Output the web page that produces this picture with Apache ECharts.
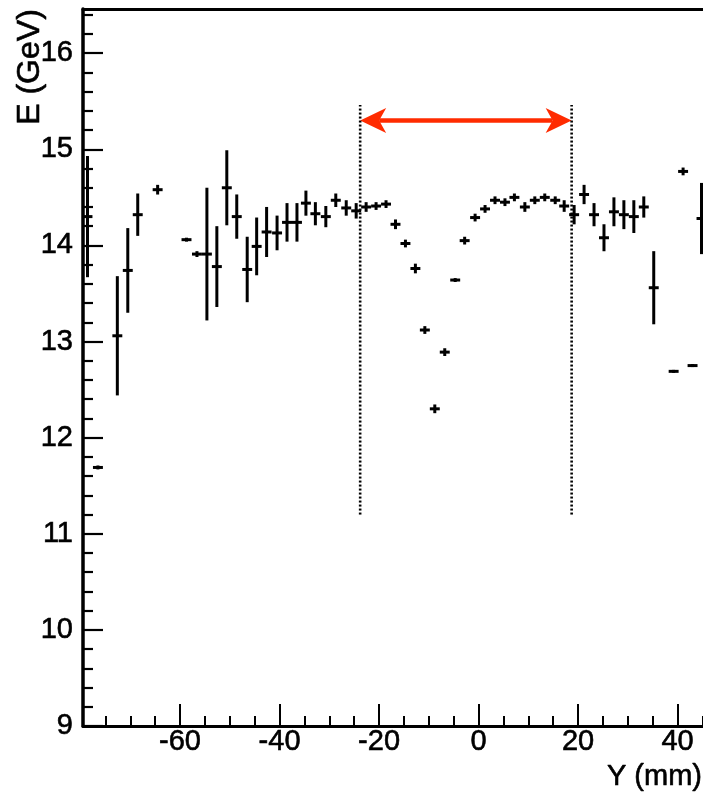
<!DOCTYPE html>
<html><head><meta charset="utf-8">
<script src="https://cdn.jsdelivr.net/npm/echarts@6/dist/echarts.min.js"></script>
<style>html,body{margin:0;padding:0;background:#fff}#c{width:703px;height:798px}</style>
</head><body><div id="c"></div>
<script>
// Bin centres (Y, mm)
const yPos = [-78.6, -76.5, -72.6, -70.5, -68.5, -64.5, -58.7, -56.6, -54.6, -52.6, -50.6, -48.6, -46.5, -44.6, -42.6, -40.5, -38.5, -36.5, -34.7, -32.8, -30.7, -28.7, -26.6, -24.6, -22.6, -20.6, -18.6, -16.7, -14.7, -12.7, -10.8, -8.8, -6.8, -4.7, -2.8, -0.7, 1.3, 3.3, 5.3, 7.2, 9.3, 11.3, 13.3, 15.4, 17.2, 19.2, 21.2, 23.2, 25.2, 27.2, 29.2, 31.2, 33.2, 35.2, 39.2, 41.1, 43.0, 44.8];
// Mean energy (GeV)
const energy = [14.30, 11.69, 13.06, 13.74, 14.32, 14.58, 14.06, 13.91, 13.91, 13.78, 14.60, 14.30, 13.75, 13.99, 14.14, 14.13, 14.24, 14.24, 14.44, 14.33, 14.30, 14.47, 14.39, 14.36, 14.40, 14.41, 14.43, 14.22, 14.02, 13.76, 13.12, 12.30, 12.89, 13.64, 14.05, 14.29, 14.38, 14.47, 14.45, 14.50, 14.40, 14.47, 14.50, 14.47, 14.41, 14.32, 14.53, 14.32, 14.08, 14.35, 14.32, 14.30, 14.40, 13.56, 12.69, 14.77, 12.75, 14.28];
// Error on the mean (GeV)
const energyErr = [0.62, 0.01, 0.61, 0.43, 0.21, 0.04, 0.01, 0.02, 0.68, 0.41, 0.38, 0.22, 0.33, 0.29, 0.25, 0.17, 0.19, 0.19, 0.12, 0.11, 0.10, 0.06, 0.07, 0.07, 0.04, 0.03, 0.03, 0.04, 0.03, 0.04, 0.03, 0.035, 0.03, 0.01, 0.03, 0.03, 0.03, 0.03, 0.03, 0.03, 0.04, 0.03, 0.03, 0.03, 0.05, 0.09, 0.09, 0.11, 0.13, 0.14, 0.14, 0.16, 0.10, 0.37, 0.005, 0.03, 0.005, 0.36];
const binHalfWidth = 1;

const xMajorTicks = [-60, -40, -20, 0, 20, 40];
const xMinorTicks = [-75, -70, -65, -55, -50, -45, -35, -30, -25, -15, -10, -5, 5, 10, 15, 25, 30, 35, 45];
const yMajorTicks = [9, 10, 11, 12, 13, 14, 15, 16];
const yMinorTicks = [9.2, 9.4, 9.6, 9.8, 10.2, 10.4, 10.6, 10.8, 11.2, 11.4, 11.6, 11.8, 12.2, 12.4, 12.6, 12.8, 13.2, 13.4, 13.6, 13.8, 14.2, 14.4, 14.6, 14.8, 15.2, 15.4, 15.6, 15.8, 16.2, 16.4];

// Fiducial window
const windowEdges = [-23.8, 18.7];
const windowE = [11.2, 15.46];
const arrowE = 15.30;

const xRange = [-79.5, 45.1];
const yRange = [9, 16.46];

const FONT = "'Liberation Sans', Arial, Helvetica, sans-serif";
const chart = echarts.init(document.getElementById('c'), null, {renderer: 'canvas'});

const errData = yPos.map((x, i) => [x, energy[i], energyErr[i]]);

const baseX = {type: 'value', min: xRange[0], max: xRange[1], splitLine: {show: false}};
const baseY = {type: 'value', min: yRange[0], max: yRange[1], splitLine: {show: false}};
const labelStyle = {color: '#000', fontSize: 29, fontFamily: FONT, textBorderColor: '#000', textBorderWidth: 0.6};

const option = {
  animation: false,
  backgroundColor: '#fff',
  grid: {left: 83, right: 0, top: 9, bottom: 72, containLabel: false},
  xAxis: [
    Object.assign({}, baseX, {
      position: 'bottom',
      axisLine: {show: true, onZero: false, lineStyle: {color: '#000', width: 3}},
      axisTick: {show: true, inside: true, length: 22, customValues: xMajorTicks, lineStyle: {color: '#000', width: 2}},
      axisLabel: Object.assign({show: true, customValues: xMajorTicks, margin: 1}, labelStyle)
    }),
    Object.assign({}, baseX, {
      position: 'bottom',
      axisLine: {show: false, onZero: false},
      axisTick: {show: true, inside: true, length: 10, customValues: xMinorTicks, lineStyle: {color: '#000', width: 2}},
      axisLabel: {show: false}
    }),
    Object.assign({}, baseX, {
      position: 'top',
      axisLine: {show: true, onZero: false, lineStyle: {color: '#000', width: 3}},
      axisTick: {show: false},
      axisLabel: {show: false}
    })
  ],
  yAxis: [
    Object.assign({}, baseY, {
      position: 'left',
      axisLine: {show: true, onZero: false, lineStyle: {color: '#000', width: 3.5}},
      axisTick: {show: true, inside: true, length: 20, customValues: yMajorTicks, lineStyle: {color: '#000', width: 2.2}},
      axisLabel: Object.assign({show: true, customValues: yMajorTicks, margin: 10}, labelStyle)
    }),
    Object.assign({}, baseY, {
      position: 'left',
      axisLine: {show: false, onZero: false},
      axisTick: {show: true, inside: true, length: 10, customValues: yMinorTicks, lineStyle: {color: '#000', width: 2.2}},
      axisLabel: {show: false}
    })
  ],
  graphic: [
    {type: 'text', x: 30, y: 67, rotation: Math.PI / 2,
     style: {text: 'E (GeV)', fill: '#000', font: "32px " + FONT, align: 'center', verticalAlign: 'middle', stroke: '#000', lineWidth: 0.6}},
    {type: 'text', x: 702, y: 777,
     style: {text: 'Y (mm)', fill: '#000', font: "29px " + FONT, align: 'right', verticalAlign: 'middle', stroke: '#000', lineWidth: 0.6}}
  ],
  series: [
    {
      type: 'line', xAxisIndex: 0, yAxisIndex: 0, symbol: 'none', silent: true,
      data: [[windowEdges[0], windowE[0]], [windowEdges[0], windowE[1]]],
      lineStyle: {color: '#000', width: 2.6, type: [2, 2]}
    },
    {
      type: 'line', xAxisIndex: 0, yAxisIndex: 0, symbol: 'none', silent: true,
      data: [[windowEdges[1], windowE[0]], [windowEdges[1], windowE[1]]],
      lineStyle: {color: '#000', width: 2.6, type: [2, 2]}
    },
    {
      type: 'custom', xAxisIndex: 0, yAxisIndex: 0, clip: true, silent: true,
      data: errData,
      encode: {x: 0, y: 1},
      renderItem: function (params, api) {
        const x = api.value(0), y = api.value(1), e = api.value(2);
        const c = api.coord([x, y]);
        const l = api.coord([x - binHalfWidth, y]);
        const r = api.coord([x + binHalfWidth, y]);
        const t = api.coord([x, y + e]);
        const b = api.coord([x, y - e]);
        const st = {stroke: '#000', lineWidth: 3, fill: null};
        return {type: 'group', children: [
          {type: 'line', shape: {x1: l[0], y1: c[1], x2: r[0], y2: c[1]}, style: st},
          {type: 'line', shape: {x1: c[0], y1: t[1] - 1, x2: c[0], y2: b[1] + 1}, style: st}
        ]};
      }
    },
    {
      type: 'custom', xAxisIndex: 0, yAxisIndex: 0, clip: false, silent: true,
      data: [[windowEdges[0], windowEdges[1], arrowE]],
      renderItem: function (params, api) {
        const p1 = api.coord([api.value(0), api.value(2)]);
        const p2 = api.coord([api.value(1), api.value(2)]);
        const L = 26, W = 12.5, N = 19;
        const col = '#ff2b00';
        return {type: 'group', children: [
          {type: 'line', shape: {x1: p1[0] + N, y1: p1[1], x2: p2[0] - N, y2: p2[1]}, style: {stroke: col, lineWidth: 4.5}},
          {type: 'polygon', shape: {points: [[p1[0], p1[1]], [p1[0] + L, p1[1] - W], [p1[0] + N, p1[1]], [p1[0] + L, p1[1] + W]]}, style: {fill: col}},
          {type: 'polygon', shape: {points: [[p2[0], p2[1]], [p2[0] - L, p2[1] - W], [p2[0] - N, p2[1]], [p2[0] - L, p2[1] + W]]}, style: {fill: col}}
        ]};
      }
    }
  ]
};
chart.setOption(option);
</script>
</body></html>
